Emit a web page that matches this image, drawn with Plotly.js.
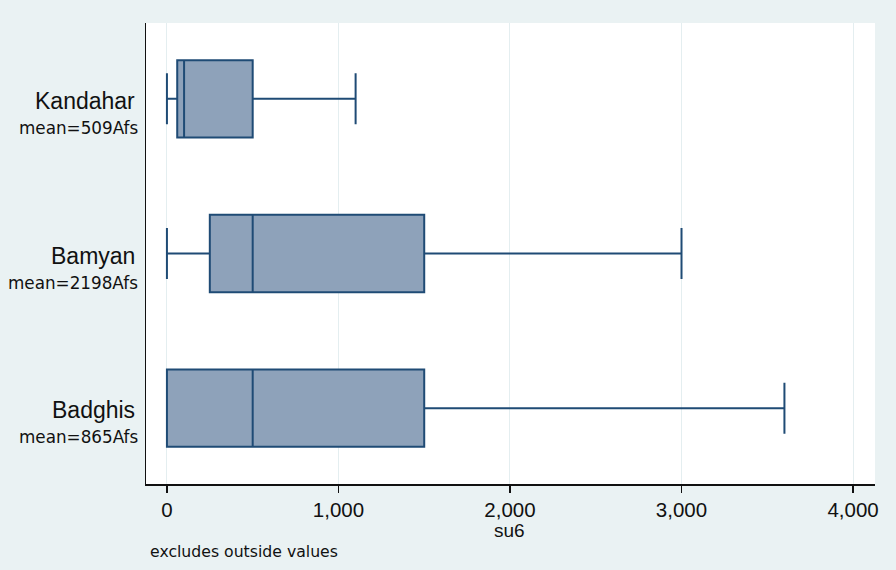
<!DOCTYPE html>
<html>
<head>
<meta charset="utf-8">
<script src="https://cdn.plot.ly/plotly-3.0.1.min.js"></script>
<style>html,body{margin:0;padding:0;background:#eaf2f3;}#chart{width:896px;height:570px;}</style>
</head>
<body>
<div id="chart"></div>
<script>
var categories = ['Kandahar', 'Bamyan', 'Badghis'];
var meanLabels = ['mean=509Afs', 'mean=2198Afs', 'mean=865Afs'];
var lowerWhisker = [0, 0, 0];
var q1 = [60, 250, 0];
var median = [100, 500, 500];
var q3 = [500, 1500, 1500];
var upperWhisker = [1100, 3000, 3600];
var xTicks = [0, 1000, 2000, 3000, 4000];
var xTitle = 'su6';
var note = 'excludes outside values';

var trace = {
  type: 'box',
  orientation: 'h',
  y: categories,
  q1: q1,
  median: median,
  q3: q3,
  lowerfence: lowerWhisker,
  upperfence: upperWhisker,
  width: 0.5,
  whiskerwidth: 0.66,
  fillcolor: '#8ea2ba',
  line: {color: '#1f4b75', width: 2},
  boxpoints: false,
  hoverinfo: 'skip'
};

var annotations = [];
categories.forEach(function (c, i) {
  annotations.push({
    x: 0, xref: 'paper', y: c, yref: 'y', xanchor: 'right', yanchor: 'middle',
    xshift: -9, yshift: -2, showarrow: false, text: c,
    font: {family: 'Liberation Sans, Arial, sans-serif', size: 23, color: '#111'}
  });
  annotations.push({
    x: 0, xref: 'paper', y: c, yref: 'y', xanchor: 'right', yanchor: 'middle',
    xshift: -6, yshift: -29, showarrow: false, text: meanLabels[i],
    font: {family: 'DejaVu Sans, Verdana, sans-serif', size: 16.8, color: '#111'}
  });
});
annotations.push({
  x: 0, xref: 'paper', y: 0, yref: 'paper', xanchor: 'left', yanchor: 'middle',
  xshift: 2, yshift: -67, showarrow: false, text: note,
  font: {family: 'DejaVu Sans, Verdana, sans-serif', size: 15.7, color: '#111'}
});
annotations.push({
  x: 2000, xref: 'x', y: 0, yref: 'paper', xanchor: 'center', yanchor: 'middle',
  yshift: -46, showarrow: false, text: xTitle,
  font: {family: 'Liberation Sans, Arial, sans-serif', size: 19, color: '#111'}
});

var layout = {
  width: 896, height: 570,
  margin: {l: 146, r: 21, t: 23, b: 86},
  paper_bgcolor: '#eaf2f3',
  plot_bgcolor: '#ffffff',
  showlegend: false,
  xaxis: {
    range: [-122, 4128],
    tickvals: xTicks,
    tickformat: ',d',
    ticks: 'outside', ticklen: 7, tickcolor: '#111', tickwidth: 1.2,
    showline: true, linecolor: '#111', linewidth: 1.5,
    showgrid: true, gridcolor: '#e4eef0', gridwidth: 1,
    zeroline: false,
    tickfont: {family: 'Liberation Sans, Arial, sans-serif', size: 20.5, color: '#111'}
  },
  yaxis: {
    type: 'category',
    categoryorder: 'array', categoryarray: categories,
    range: [2.49, -0.49],
    showline: true, linecolor: '#111', linewidth: 1.5,
    showgrid: false, zeroline: false,
    showticklabels: false, ticks: ''
  },
  annotations: annotations
};

Plotly.newPlot('chart', [trace], layout, {displayModeBar: false, staticPlot: true});
</script>
</body>
</html>
